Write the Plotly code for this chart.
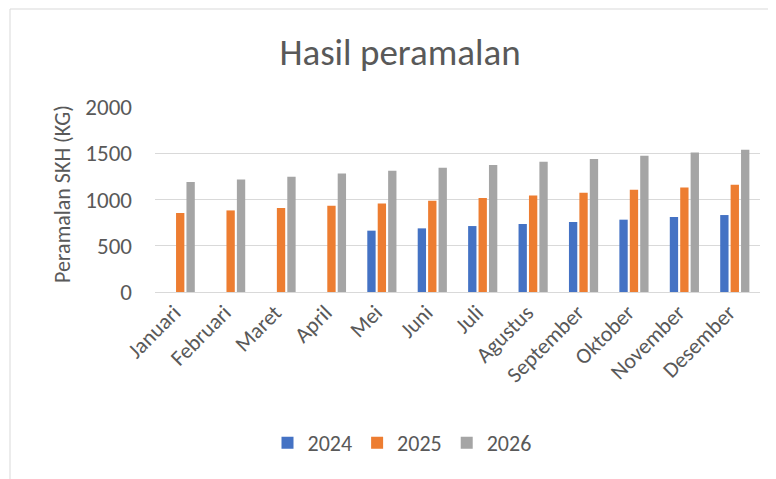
import plotly.graph_objects as go

months = ["Januari", "Februari", "Maret", "April", "Mei", "Juni", "Juli",
          "Agustus", "September", "Oktober", "November", "Desember"]
y2024 = [None, None, None, None, 663, 688, 713, 735, 757, 782, 811, 832]
y2025 = [854, 882, 908, 933, 958, 987, 1016, 1044, 1073, 1106, 1131, 1160]
y2026 = [1189, 1217, 1246, 1282, 1311, 1344, 1373, 1409, 1438, 1473, 1509, 1538]
series_names = ["2024", "2025", "2026"]
colors = ["#4472C4", "#ED7D31", "#A5A5A5"]

FONT = "Carlito, Calibri, Lato, sans-serif"
TXT = "#595959"

OFF = 8  # page body margin
W, H = 776, 479
# reference pixel positions of plot area
RL, RR, RT, RB = 155, 760, 107, 292
L, T = RL - OFF, RT - OFF
R = W - (RR - OFF)
B = H - (RB - OFF)
pw, ph = W - L - R, H - T - B

def px_x(x):
    return (x - OFF - L) / pw

def px_y(y):
    return (H - B - (y - OFF)) / ph

fig = go.Figure()
for name, vals, c in zip(series_names, [y2024, y2025, y2026], colors):
    fig.add_trace(go.Bar(x=months, y=vals, name=name, marker_color=c,
                         marker_line_width=0))

fig.update_layout(
    width=W, height=H,
    margin=dict(l=L, r=R, t=T, b=B),
    paper_bgcolor="white", plot_bgcolor="white",
    barmode="group", bargap=0.38, bargroupgap=0.2,
    font=dict(family=FONT, color=TXT),
    title=dict(text="Hasil peramalan", x=px_x(400), xref="paper", xanchor="center",
               y=1 - (52 - OFF) / H, yanchor="middle",
               font=dict(size=37, color=TXT, family=FONT)),
    legend=dict(orientation="h", x=px_x(402), xanchor="center",
                y=px_y(443), yanchor="middle",
                font=dict(size=22, color=TXT, family=FONT),
                itemwidth=30, traceorder="normal"),
    showlegend=True,
)
fig.update_yaxes(range=[0, 2000], dtick=500, showgrid=True, gridcolor="#D9D9D9",
                 gridwidth=1, zeroline=False, showline=False,
                 tickfont=dict(size=23, color=TXT, family=FONT),
                 ticks="", ticklabelstandoff=22)
fig.update_xaxes(tickangle=-45, showline=True, linecolor="#D9D9D9", linewidth=1,
                 tickfont=dict(size=22, color=TXT, family=FONT), ticks="",
                 ticklabelshift=-6, ticklabelstandoff=-2)

fig.add_annotation(text="Peramalan SKH (KG)", textangle=-90, xref="paper", yref="paper",
                   x=px_x(62), y=px_y(194), xanchor="center", yanchor="middle",
                   showarrow=False, font=dict(size=22, color=TXT, family=FONT))

fig.add_shape(type="rect", xref="paper", yref="paper",
              x0=px_x(10), x1=px_x(820), y0=px_y(520), y1=px_y(9),
              line=dict(color="#D9D9D9", width=1), fillcolor="rgba(0,0,0,0)",
              layer="below")

fig.write_html("out.html")
